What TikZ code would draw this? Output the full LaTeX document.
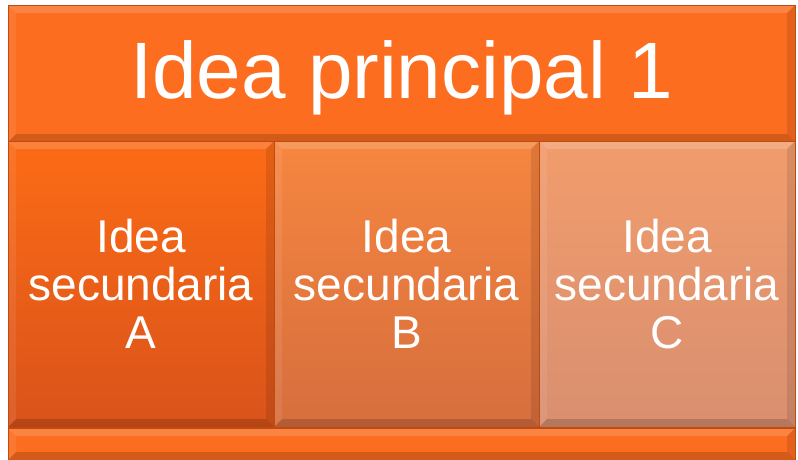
\documentclass[tikz,border=0pt]{standalone}
\usepackage{fontspec}
\setmainfont{Liberation Sans}
\usetikzlibrary{calc}
\definecolor{bannerfill}{HTML}{FC6D20}
\definecolor{edgebrown}{HTML}{C04A12}
\definecolor{atop}{HTML}{FC6B16}
\definecolor{abot}{HTML}{D9531A}
\definecolor{btop}{HTML}{F6863F}
\definecolor{bbot}{HTML}{D66E3E}
\definecolor{ctop}{HTML}{F19C6C}
\definecolor{cbot}{HTML}{D98F70}
% bevelled edges of a box
\newcommand{\bevelpic}{
  \coordinate (bnw) at (path picture bounding box.north west);
  \coordinate (bne) at (path picture bounding box.north east);
  \coordinate (bsw) at (path picture bounding box.south west);
  \coordinate (bse) at (path picture bounding box.south east);
  \fill[white,opacity=.16] (bnw) -- (bne) -- ($(bne)+(-8pt,-8pt)$) -- ($(bnw)+(8pt,-8pt)$) -- cycle;
  \fill[white,opacity=.08] (bnw) -- ($(bnw)+(8pt,-8pt)$) -- ($(bsw)+(8pt,8pt)$) -- (bsw) -- cycle;
  \fill[black,opacity=.16] (bsw) -- (bse) -- ($(bse)+(-8pt,8pt)$) -- ($(bsw)+(8pt,8pt)$) -- cycle;
  \fill[black,opacity=.10] (bne) -- (bse) -- ($(bse)+(-8pt,8pt)$) -- ($(bne)+(-8pt,-8pt)$) -- cycle;
}
\tikzset{
  bandbox/.style={draw=edgebrown, line width=0.8pt, inner sep=0pt, text=white,
    align=center, path picture={\bevelpic}},
  mainbox/.style={bandbox, fill=bannerfill, font=\fontsize{80}{80}\selectfont,
    text height=51pt, text depth=0pt},
  subbox/.style={bandbox, minimum height=286pt, font=\fontsize{46}{48}\selectfont},
}

\begin{document}
\begin{tikzpicture}[x=1pt,y=-1pt]
\useasboundingbox (0,0) rectangle (798,460);

\node[mainbox, minimum width=787pt, minimum height=137pt] (main) at (401.5,73.5) {Idea principal 1};

\node[subbox, minimum width=266pt, top color=atop, bottom color=abot] (ideaA) at (141,284) {Idea\\secundaria\\A};
\node[subbox, minimum width=265pt, top color=btop, bottom color=bbot] (ideaB) at (406.5,284) {Idea\\secundaria\\B};
\node[subbox, minimum width=256pt, top color=ctop, bottom color=cbot] (ideaC) at (667,284) {Idea\\secundaria\\C};

\node[bandbox, fill=bannerfill, minimum width=787pt, minimum height=32pt] (bottom) at (401.5,444) {};

\end{tikzpicture}
\end{document}
